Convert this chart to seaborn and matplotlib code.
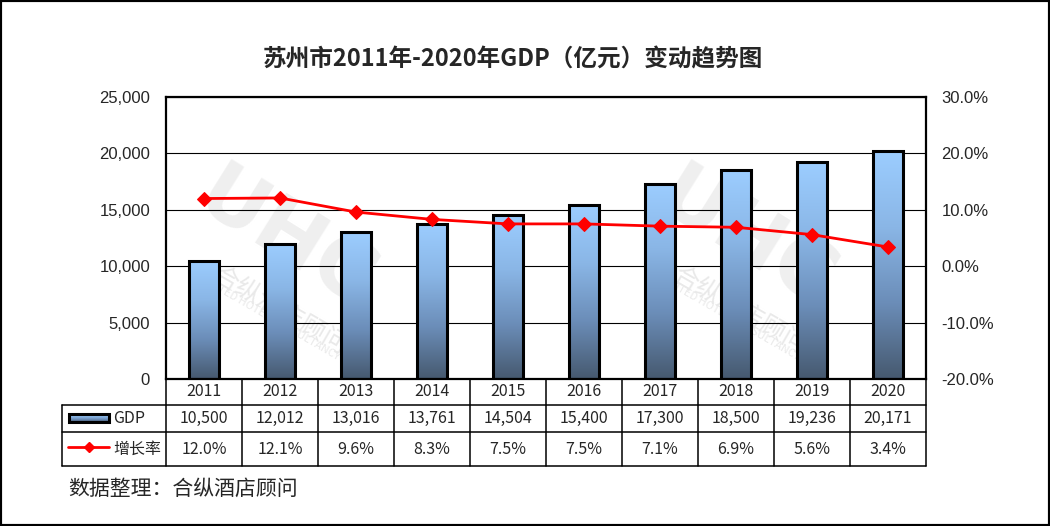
import numpy as np
import matplotlib
matplotlib.use('Agg')
import matplotlib.pyplot as plt
import seaborn as sns
from matplotlib.colors import LinearSegmentedColormap
from matplotlib.lines import Line2D
from matplotlib.patches import Rectangle
from matplotlib.transforms import blended_transform_factory
from matplotlib.ticker import FuncFormatter, MultipleLocator

# datos
years = ['2011', '2012', '2013', '2014', '2015', '2016', '2017', '2018', '2019', '2020']
gdp = [10500, 12012, 13016, 13761, 14504, 15400, 17300, 18500, 19236, 20171]
growth = [12.0, 12.1, 9.6, 8.3, 7.5, 7.5, 7.1, 6.9, 5.6, 3.4]
gdp_labels = [f'{v:,}' for v in gdp]
growth_labels = [f'{v:.1f}%' for v in growth]

title = '苏州市2011年-2020年GDP（亿元）变动趋势图'
source = '数据整理：合纵酒店顾问'

sns.set_theme(style='white')
plt.rcParams['font.family'] = ['Noto Sans CJK SC', 'DejaVu Sans']

W, H = 1050, 526
fig = plt.figure(figsize=(W / 100, H / 100), dpi=100)
ax = fig.add_axes([166 / W, 1 - 379 / H, 760 / W, 282 / H])

def fy(py):
    return 1 - py / H

def fx(px):
    return px / W

cmap = LinearSegmentedColormap.from_list('bar', ['#9ccdff', '#8ab6e6', '#6b8db8', '#46596f'])
grad = np.linspace(0, 1, 256).reshape(-1, 1)

# barras
sns.barplot(x=years, y=gdp, ax=ax, width=0.4, color='#99ccff',
            edgecolor='black', linewidth=2.2, zorder=3)
for p in ax.patches:
    x0, w, h = p.get_x(), p.get_width(), p.get_height()
    ax.imshow(grad, cmap=cmap, aspect='auto', extent=[x0, x0 + w, 0, h],
              origin='upper', zorder=2.5, interpolation='bilinear')
    p.set_facecolor('none')

ax.set_xlim(-0.5, 9.5)
ax.set_ylim(0, 25000)
ax.yaxis.set_major_locator(MultipleLocator(5000))
ax.yaxis.set_major_formatter(FuncFormatter(lambda v, _: f'{v:,.0f}'))
ax.grid(axis='y', color='black', linewidth=0.8, zorder=1)
ax.set_axisbelow(True)
ax.tick_params(axis='y', length=0, pad=11.5, labelsize=12)
ax.tick_params(axis='x', length=0, labelbottom=False)
for lab in ax.get_yticklabels():
    lab.set_fontfamily('Liberation Sans')
for s in ax.spines.values():
    s.set_color('black')
    s.set_linewidth(1.6)
ax.set_xlabel('')

# linea de crecimiento
ax2 = ax.twinx()
sns.lineplot(x=np.arange(len(years)), y=growth, ax=ax2, color='#ff0000',
             linewidth=2, marker='D', markersize=7, markeredgecolor='#ff0000', zorder=5)
ax2.set_ylim(-20, 30)
ax2.set_xlim(-0.5, 9.5)
ax2.yaxis.set_major_locator(MultipleLocator(10))
ax2.yaxis.set_major_formatter(FuncFormatter(lambda v, _: f'{v:.1f}%'))
ax2.tick_params(axis='y', length=0, pad=11, labelsize=12)
for lab in ax2.get_yticklabels():
    lab.set_fontfamily('Liberation Sans')
for s in ax2.spines.values():
    s.set_visible(False)

# marca de agua (detras de todo)
for cx in (285, 745):
    fig.text(fx(cx), fy(240), 'UHC', fontsize=58, fontweight='bold', color='#efefef',
             rotation=-32, ha='center', va='center', zorder=-1, family='DejaVu Sans')
    fig.text(fx(cx - 5), fy(310), '合纵酒店顾问', fontsize=18, color='#e9e9e9',
             rotation=-30, ha='center', va='center', zorder=-1)
    fig.text(fx(cx - 15), fy(318), 'UNITED HOTEL CONSULTANCY', fontsize=8, color='#e9e9e9',
             rotation=-30, ha='center', va='center', zorder=-1)
ax.patch.set_alpha(0)
ax2.patch.set_alpha(0)

# tabla de datos
tb = blended_transform_factory(ax.transData, fig.transFigure)
lw = 1.1
for k in range(len(years) + 1):
    fig.add_artist(Line2D([k - 0.5, k - 0.5], [fy(379), fy(466)], transform=tb,
                          color='black', lw=lw))
fig.add_artist(Line2D([fx(62), fx(62)], [fy(405), fy(466)], color='black', lw=lw))
for py in (405, 432, 466):
    fig.add_artist(Line2D([fx(62), fx(926)], [fy(py), fy(py)], color='black', lw=lw))

for i in range(len(years)):
    fig.text(i, fy(392), years[i], transform=tb, ha='center', va='center', fontsize=11.5)
    fig.text(i, fy(418.5), gdp_labels[i], transform=tb, ha='center', va='center', fontsize=11.5)
    fig.text(i, fy(449), growth_labels[i], transform=tb, ha='center', va='center', fontsize=11.5)

# leyenda dentro de la tabla
lax = fig.add_axes([fx(69), fy(422), fx(40), 8 / H])
lax.imshow(grad, cmap=cmap, aspect='auto', extent=[0, 1, 0, 1], origin='upper')
lax.add_patch(Rectangle((0, 0), 1, 1, fill=False, edgecolor='black', lw=2.2,
                        transform=lax.transAxes, clip_on=False))
lax.set_axis_off()
fig.add_artist(Line2D([fx(68), fx(109)], [fy(447), fy(447)], color='#ff0000', lw=2))
fig.add_artist(Line2D([fx(89)], [fy(447)], color='#ff0000', marker='D', markersize=5))
fig.text(fx(113), fy(418.5), 'GDP', ha='left', va='center', fontsize=11.5)
fig.text(fx(113), fy(449), '增长率', ha='left', va='center', fontsize=11.5)

# titulo y fuente
fig.text(fx(513), fy(59), title, ha='center', va='center', fontsize=17, fontweight='bold')
fig.text(fx(68), fy(489), source, ha='left', va='center', fontsize=15)

# borde
fig.add_artist(Rectangle((0, 0), 1, 1, transform=fig.transFigure, fill=False,
                         edgecolor='black', lw=3))

fig.savefig('out.png', dpi=100)
